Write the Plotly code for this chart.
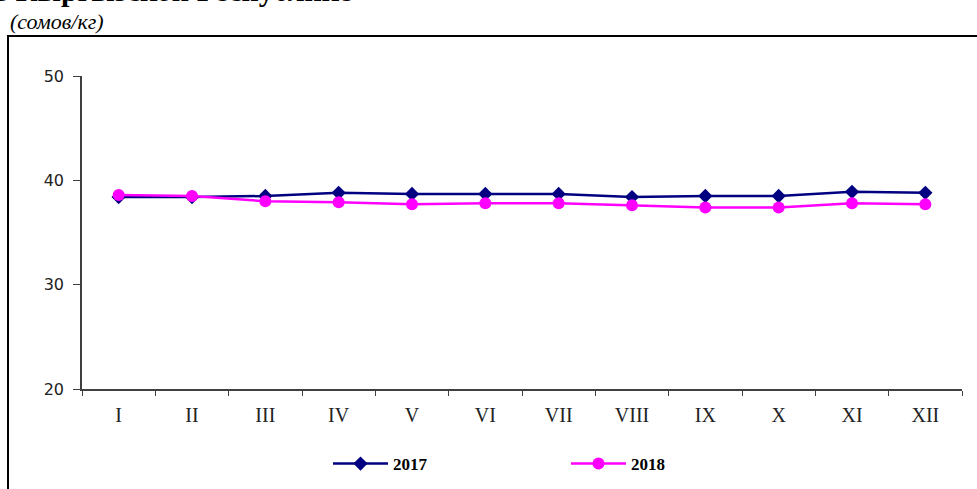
import plotly.graph_objects as go

months = ["I", "II", "III", "IV", "V", "VI", "VII", "VIII", "IX", "X", "XI", "XII"]
y2017 = [38.4, 38.4, 38.5, 38.8, 38.7, 38.7, 38.7, 38.4, 38.5, 38.5, 38.9, 38.8]
y2018 = [38.6, 38.5, 38.0, 37.9, 37.7, 37.8, 37.8, 37.6, 37.4, 37.4, 37.8, 37.7]
yticks = [20, 30, 40, 50]

L, R, T, B = 82, 15, 76, 100
W, H = 977, 489
pw, ph = W - L - R, H - T - B

def px(x):
    return (x - L) / pw

def py(y):
    return (T + ph - y) / ph

fig = go.Figure()
fig.add_trace(go.Scatter(x=months, y=y2017, name="<b>2017</b>", mode="lines+markers",
                         line=dict(color="#000080", width=2.5),
                         marker=dict(symbol="diamond", size=11, color="#000080")))
fig.add_trace(go.Scatter(x=months, y=y2018, name="<b>2018</b>", mode="lines+markers",
                         line=dict(color="#FF00FF", width=2.5),
                         marker=dict(symbol="circle", size=12, color="#FF00FF")))

fig.update_layout(
    width=W, height=H,
    margin=dict(l=L, r=R, t=T, b=B, autoexpand=False),
    paper_bgcolor="white", plot_bgcolor="white",
    showlegend=True,
    legend=dict(orientation="h", x=px(328), y=py(464),
                xanchor="left", yanchor="middle",
                font=dict(family="Liberation Serif", size=17, color="black"),
                entrywidth=168, entrywidthmode="pixels",
                itemwidth=55),
    xaxis=dict(type="category", tickson="boundaries", ticks="outside", ticklen=5,
               tickcolor="#404040", showline=True, linecolor="#404040", linewidth=1.5,
               showgrid=False, tickfont=dict(family="Liberation Serif", size=20, color="#222"),
               ticklabelstandoff=7, range=[-0.5, 11.5], automargin=False),
    yaxis=dict(range=[20, 50], tickvals=yticks, ticks="outside", ticklen=7,
               tickcolor="#404040", showline=True, linecolor="#404040", linewidth=1.5,
               showgrid=False, zeroline=False, ticklabelstandoff=6, automargin=False,
               tickfont=dict(family="DejaVu Sans", size=16, color="#222")),
    shapes=[dict(type="rect", xref="paper", yref="paper",
                 x0=px(8), x1=px(1000),
                 y0=py(520), y1=py(36),
                 line=dict(color="black", width=2), fillcolor="rgba(0,0,0,0)", layer="below")],
    annotations=[
        dict(text="<b>в Кыргызской Республике</b>", xref="paper", yref="paper",
             x=px(-10), y=py(9), xanchor="left", yanchor="bottom",
             showarrow=False, font=dict(family="Liberation Serif", size=30, color="black")),
        dict(text="<i>(сомов/кг)</i>", xref="paper", yref="paper",
             x=px(8), y=py(22), xanchor="left", yanchor="middle",
             showarrow=False, font=dict(family="Liberation Serif", size=22, color="black")),
    ],
)

fig.write_html("out.html", config={"displayModeBar": False},
               post_script="document.body.style.margin='0';")
